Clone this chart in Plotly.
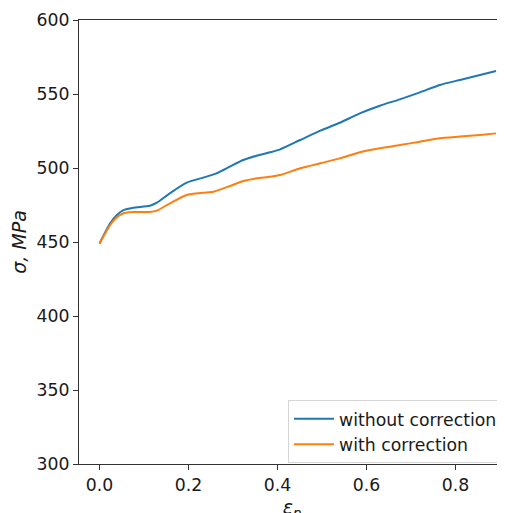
import plotly.graph_objects as go

strain_blue = [0.0, 0.024, 0.039, 0.054, 0.076, 0.113, 0.129, 0.158, 0.196, 0.233, 0.263, 0.293,
               0.323, 0.353, 0.383, 0.406, 0.451, 0.496, 0.540, 0.585, 0.630, 0.675, 0.720,
               0.765, 0.810, 0.855, 0.891]
stress_without = [449.0, 462.6, 468.2, 471.6, 473.2, 474.5, 476.6, 482.9, 490.1, 493.5, 496.4, 500.9,
                  505.4, 508.3, 510.6, 512.6, 518.9, 525.2, 530.6, 536.9, 542.1, 546.4, 551.1,
                  556.1, 559.5, 562.8, 565.5]
strain_orange = [0.0, 0.024, 0.039, 0.054, 0.076, 0.113, 0.129, 0.158, 0.196, 0.233, 0.256, 0.293,
                 0.323, 0.353, 0.383, 0.406, 0.451, 0.496, 0.540, 0.585, 0.630, 0.675, 0.720,
                 0.765, 0.810, 0.855, 0.891]
stress_with = [449.0, 461.5, 466.7, 469.4, 470.3, 470.3, 471.2, 476.1, 481.8, 483.3, 484.0, 487.8,
               491.2, 493.0, 494.1, 495.3, 499.8, 503.2, 506.5, 510.6, 513.3, 515.5, 517.8,
               520.1, 521.2, 522.3, 523.4]
series_names = ["without correction", "with correction"]
x_ticks = [0.0, 0.2, 0.4, 0.6, 0.8]
x_tick_labels = ["0.0", "0.2", "0.4", "0.6", "0.8"]
y_ticks = [300, 350, 400, 450, 500, 550, 600]

fig = go.Figure()
fig.add_trace(go.Scatter(x=strain_blue, y=stress_without, mode="lines", name=series_names[0],
                         line=dict(color="#1f77b4", width=2, shape="spline", smoothing=0.6)))
fig.add_trace(go.Scatter(x=strain_orange, y=stress_with, mode="lines", name=series_names[1],
                         line=dict(color="#ff7f0e", width=2, shape="spline", smoothing=0.6)))

font = "DejaVu Sans"
fig.update_layout(
    width=497, height=513,
    margin=dict(l=71, r=0, t=12, b=57),
    paper_bgcolor="white", plot_bgcolor="white",
    font=dict(family=font, size=17.3, color="#1a1a1a"),
    showlegend=True,
    legend=dict(x=0.4906, y=0.144, xanchor="left", yanchor="top",
                bordercolor="#d6d6d6", borderwidth=1, bgcolor="rgba(255,255,255,0.8)",
                font=dict(family=font, size=17.3, color="#1a1a1a"), itemwidth=40,
                tracegroupgap=0),
    xaxis=dict(range=[-0.04607, 0.91124], tickvals=x_ticks, ticktext=x_tick_labels,
               showgrid=False, zeroline=False, showline=True, linecolor="#333", linewidth=1,
               mirror=True, ticks="outside", ticklen=5, tickcolor="#333",
               title=dict(text="<i>ε<sub>p</sub></i>", standoff=8, font=dict(size=19))),
    yaxis=dict(range=[300, 600], tickvals=y_ticks,
               showgrid=False, zeroline=False, showline=True, linecolor="#333", linewidth=1,
               mirror=False, ticks="outside", ticklen=5, tickcolor="#333",
               title=dict(text="<i>σ, MPa</i>", standoff=8, font=dict(size=19))),
)

fig.write_html("out.html")
